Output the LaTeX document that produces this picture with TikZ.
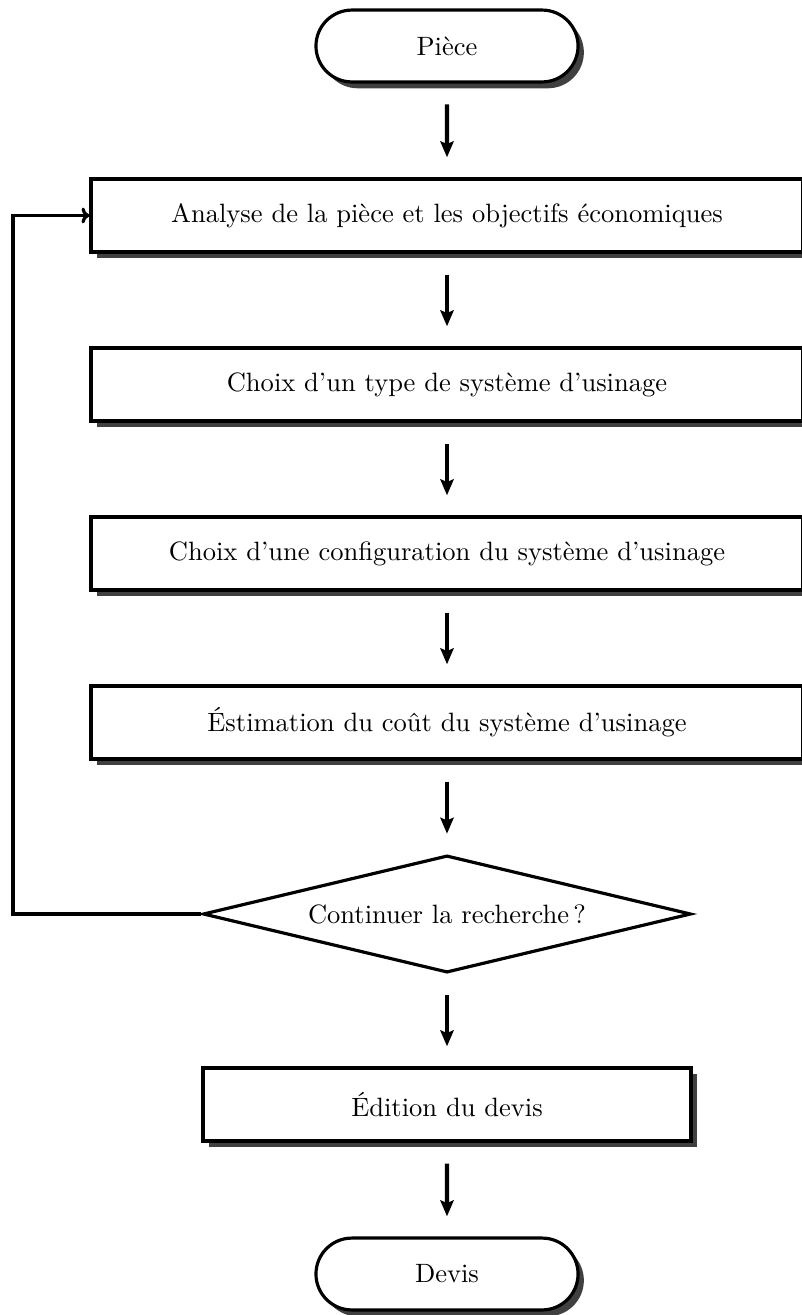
\documentclass[tikz,border=0pt]{standalone}
\usetikzlibrary{arrows.meta,shapes.geometric,shapes.misc,shadows}
\begin{document}
\begin{tikzpicture}[x=0.377pt,y=-0.377pt,
  base/.style={draw=black,line width=1.2pt,fill=white,font=\fontsize{10}{12}\selectfont,inner sep=0pt,
    drop shadow={shadow xshift=2.2pt,shadow yshift=-2.4pt,fill=black!75,opacity=1}},
  widebox/.style={base,rectangle,minimum width=268.4pt,minimum height=27.5pt},
  midbox/.style={base,rectangle,minimum width=184pt,minimum height=27.5pt},
  term/.style={base,rounded rectangle,minimum width=98.8pt,minimum height=27.1pt},
  decis/.style={draw=black,line width=1.2pt,fill=white,font=\fontsize{10}{12}\selectfont,diamond,aspect=2.84,inner sep=0pt,minimum width=184pt},
  arr/.style={line width=1.6pt,-{Stealth[length=6pt,width=5pt,inset=1pt]},shorten <=7.9pt,shorten >=7.6pt},
  fb/.style={line width=1.2pt,-{To[length=3pt,width=6pt]},line join=miter}]
\useasboundingbox (0,0) rectangle (802,1315);
\clip (0,0) rectangle (802,1315);
\node[term] (p) at (447,46) {Pièce};
\node[widebox] (b1) at (447,215.5) {Analyse de la pièce et les objectifs économiques};
\node[widebox] (b2) at (447,384.5) {Choix d’un type de système d’usinage};
\node[widebox] (b3) at (447,553.5) {Choix d’une configuration du système d’usinage};
\node[widebox] (b4) at (447,722.5) {Éstimation du coût du système d’usinage};
\node[decis] (d) at (447,914) {Continuer la recherche\,?};
\node[midbox] (b5) at (447,1104.5) {Édition du devis};
\node[term] (dv) at (447,1274) {Devis};
\coordinate (lx) at (13,0);
\draw[arr] (p) -- (b1);
\draw[arr] (b1) -- (b2);
\draw[arr] (b2) -- (b3);
\draw[arr] (b3) -- (b4);
\draw[arr] (b4) -- (d);
\draw[arr] (d) -- (b5);
\draw[arr] (b5) -- (dv);
\draw[fb] (d.west) -| (lx |- b1.west) -- (b1.west);
\end{tikzpicture}
\end{document}
